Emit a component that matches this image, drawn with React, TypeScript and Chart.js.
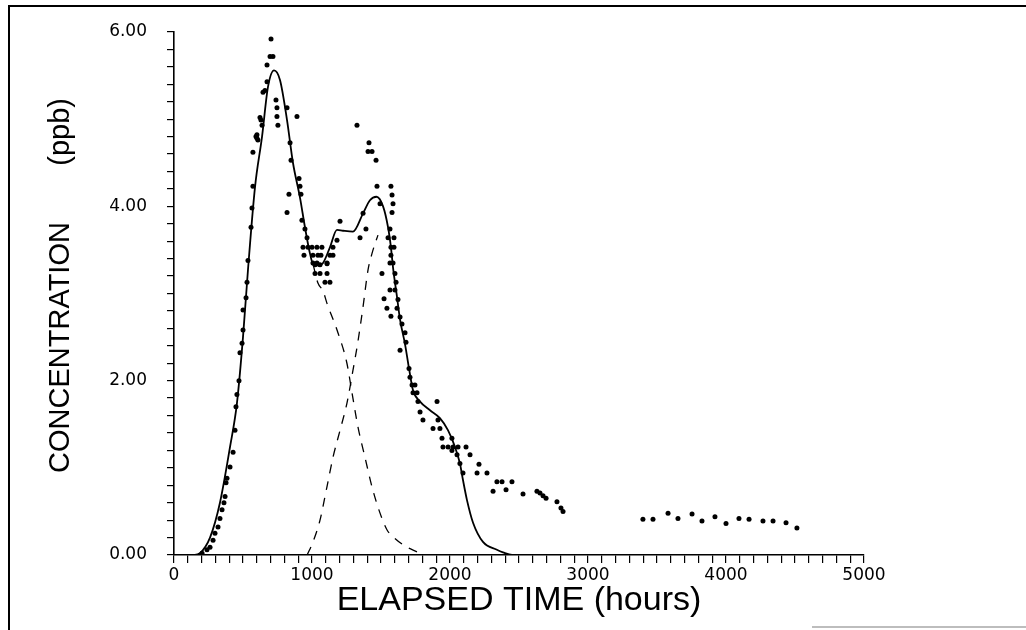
import React, { useEffect, useRef } from "react";
import { Chart, registerables } from "chart.js";

Chart.register(...registerables);

// Observed concentrations (ppb) vs elapsed time (hours)
const obsHours = [
  203, 239, 261, 283, 297, 319, 333, 348, 362, 370, 377, 384, 406, 428, 442, 449, 456, 471, 478, 493,
  500, 500, 522, 529, 536, 558, 565, 572, 572, 594, 601, 601, 608, 623, 630, 638, 645, 659, 674, 674,
  696, 703, 717, 739, 746, 746, 753, 819, 891, 841, 848, 906, 913, 920, 833, 819, 927, 949, 964, 935,
  971, 942, 1000, 1036, 1072, 1007, 1043, 1065, 1036, 1109, 1130, 1152, 1152, 1181, 1203, 1348, 1370, 1391, 1326, 1413,
  1406, 1435, 1464, 1471, 1572, 1580, 1587, 1580, 1493, 1565, 1594, 1551, 1572, 1594, 1572, 1565, 1587, 1507, 1601, 1609,
  1565, 1601, 1522, 1623, 1543, 1616, 1572, 1638, 1652, 1674, 1638, 1681, 1703, 1710, 1725, 1746, 1732, 1761, 1768, 1906,
  1783, 1804, 1913, 1877, 1927, 1942, 2014, 1949, 1986, 2022, 2058, 2116, 2014, 2051, 2145, 2072, 2210, 2094, 2196, 2268,
  2340, 2377, 2449, 2312, 2406, 2529, 2630, 2652, 2674, 2696, 2775, 2804, 2819,
  1007, 1022, 1058, 1109, 1109, 1094, 1130, 1022, 1058,
  3398, 3471, 3580, 3652, 3754, 3826, 3920, 4000, 4094, 4167, 4268, 4341, 4435, 4514,
];
const obsConc = [
  0.02, 0.06, 0.09, 0.17, 0.25, 0.32, 0.42, 0.52, 0.6, 0.67, 0.83, 0.88, 1.01, 1.18, 1.43, 1.7, 1.84, 2.0, 2.32, 2.43,
  2.58, 2.81, 2.95, 3.13, 3.38, 3.76, 3.98, 4.23, 4.62, 4.8, 4.82, 4.78, 4.76, 5.02, 4.99, 4.93, 5.31, 5.33, 5.43, 5.62,
  5.72, 5.92, 5.72, 5.22, 5.13, 5.03, 4.93, 5.13, 5.03, 4.73, 4.53, 4.32, 4.23, 4.14, 4.14, 3.93, 3.84, 3.74, 3.64, 3.53,
  3.53, 3.44, 3.53, 3.53, 3.53, 3.44, 3.44, 3.44, 3.35, 3.35, 3.44, 3.44, 3.53, 3.61, 3.83, 3.64, 3.92, 3.74, 4.93, 4.73,
  4.63, 4.63, 4.53, 4.23, 4.23, 4.13, 4.03, 3.93, 4.03, 3.74, 3.64, 3.64, 3.53, 3.53, 3.44, 3.35, 3.35, 3.23, 3.23, 3.13,
  3.04, 3.04, 2.94, 2.93, 2.83, 2.83, 2.74, 2.73, 2.65, 2.55, 2.35, 2.44, 2.14, 2.04, 1.95, 1.95, 1.86, 1.86, 1.76, 1.76,
  1.64, 1.55, 1.55, 1.45, 1.45, 1.34, 1.34, 1.24, 1.24, 1.24, 1.24, 1.24, 1.2, 1.15, 1.15, 1.05, 1.04, 0.94, 0.94, 0.94,
  0.84, 0.84, 0.84, 0.73, 0.75, 0.7, 0.73, 0.71, 0.68, 0.65, 0.61, 0.54, 0.5,
  3.35, 3.23, 3.23, 3.34, 3.23, 3.13, 3.13, 3.33, 3.33,
  0.41, 0.41, 0.48, 0.42, 0.47, 0.39, 0.44, 0.36, 0.42, 0.41, 0.39, 0.39, 0.37, 0.31,
];

// Fitted total curve
const fitHours = [
  0, 150, 188, 261, 333, 406, 456, 500, 536, 587, 638, 681, 725, 768, 819, 862, 913, 949, 985, 1007,
  1050, 1080, 1130, 1181, 1225, 1297, 1370, 1420, 1467, 1515, 1551, 1572, 1587, 1616, 1638, 1674, 1703, 1732, 1783, 1855,
  1927, 1986, 2036, 2072, 2094, 2123, 2167, 2239, 2340, 2384, 2450, 5000,
];
const fitConc = [
  0, 0, 0.02, 0.2, 0.6, 1.24, 1.74, 2.5, 3.27, 4.22, 4.8, 5.37, 5.56, 5.45, 4.99, 4.5, 4.1, 3.76, 3.46, 3.34,
  3.32, 3.35, 3.53, 3.73, 3.72, 3.71, 3.92, 4.07, 4.11, 4.0, 3.76, 3.53, 3.3, 2.96, 2.7, 2.42, 2.14, 1.89, 1.76, 1.66,
  1.57, 1.43, 1.24, 1.05, 0.86, 0.63, 0.37, 0.15, 0.06, 0.03, 0, 0,
];

// First component (dashed)
const comp1Hours = [1007, 1043, 1080, 1108, 1188, 1253, 1290, 1333, 1384, 1435, 1493, 1543, 1601, 1688, 1768, 1800];
const comp1Conc = [3.34, 3.12, 3.03, 2.89, 2.55, 2.2, 1.86, 1.47, 1.12, 0.78, 0.48, 0.29, 0.19, 0.09, 0.03, 0.0];

// Second component (dashed)
const comp2Hours = [965, 1007, 1058, 1108, 1152, 1203, 1253, 1297, 1333, 1370, 1406, 1435, 1478];
const comp2Conc = [0.0, 0.15, 0.4, 0.78, 1.12, 1.43, 1.74, 2.12, 2.45, 2.85, 3.27, 3.46, 3.67];

const xMajorTicks = [0, 1000, 2000, 3000, 4000, 5000];
const yMajorTicks = [0, 2, 4, 6];

const xTitle = "ELAPSED TIME (hours)";
const yTitle = "  CONCENTRATION       (ppb)";

const toPoints = (xs: number[], ys: number[]) => xs.map((x, i) => ({ x, y: ys[i] }));

export default function App() {
  const ref = useRef<HTMLCanvasElement>(null);

  useEffect(() => {
    const canvas = ref.current;
    if (!canvas) return;

    const framePlugin = {
      id: "frame",
      beforeDraw(chart: any) {
        const c = chart.ctx;
        c.save();
        c.fillStyle = "#ffffff";
        c.fillRect(0, 0, chart.width, chart.height);
        c.strokeStyle = "#000000";
        c.lineWidth = 2;
        c.beginPath();
        c.moveTo(9, 630);
        c.lineTo(9, 6);
        c.lineTo(1026, 6);
        c.stroke();
        c.strokeStyle = "#bdbdbd";
        c.lineWidth = 2;
        c.beginPath();
        c.moveTo(812, 627);
        c.lineTo(1026, 627);
        c.stroke();
        c.restore();
      },
    };

    const tickFont = { family: "'DejaVu Sans', sans-serif", size: 17 };
    const titleFamily = "'Liberation Sans', Arial, sans-serif";

    const chart = new Chart(canvas, {
      type: "scatter",
      data: {
        datasets: [
          {
            label: "Observed",
            data: toPoints(obsHours, obsConc),
            showLine: false,
            pointRadius: 2.5,
            pointBackgroundColor: "#000",
            pointBorderWidth: 0,
            order: 1,
          },
          {
            label: "Fit",
            data: toPoints(fitHours, fitConc),
            showLine: true,
            pointRadius: 0,
            borderColor: "#000",
            borderWidth: 1.8,
            cubicInterpolationMode: "monotone",
            order: 2,
          },
          {
            label: "Component 1",
            data: toPoints(comp1Hours, comp1Conc),
            showLine: true,
            pointRadius: 0,
            borderColor: "#000",
            borderWidth: 1.3,
            borderDash: [9, 8],
            cubicInterpolationMode: "monotone",
            order: 3,
          },
          {
            label: "Component 2",
            data: toPoints(comp2Hours, comp2Conc),
            showLine: true,
            pointRadius: 0,
            borderColor: "#000",
            borderWidth: 1.3,
            borderDash: [9, 8],
            cubicInterpolationMode: "monotone",
            order: 4,
          },
        ],
      },
      options: {
        responsive: true,
        maintainAspectRatio: false,
        animation: false,
        layout: { padding: { left: 0, top: 32, right: 162, bottom: 0 } },
        plugins: {
          legend: { display: false },
          tooltip: { enabled: false },
        },
        scales: {
          x: {
            type: "linear",
            min: 0,
            max: 5000,
            afterFit: (scale: any) => {
              scale.height = 75;
            },
            ticks: {
              stepSize: 100,
              autoSkip: false,
              maxRotation: 0,
              padding: 2,
              color: "#000",
              font: tickFont,
              callback: (v: any) => (xMajorTicks.includes(Number(v)) ? String(v) : ""),
            },
            grid: {
              drawOnChartArea: false,
              drawTicks: true,
              tickLength: 8,
              color: "#000",
              lineWidth: 1.2,
            },
            border: { display: true, color: "#000", width: 1.6 },
            title: {
              display: true,
              text: xTitle,
              color: "#000",
              font: { family: titleFamily, size: 34 },
              padding: { top: 0, bottom: 9 },
            },
          },
          y: {
            type: "linear",
            min: 0,
            max: 6,
            afterFit: (scale: any) => {
              scale.width = 174;
            },
            ticks: {
              stepSize: 0.2,
              autoSkip: false,
              padding: 20,
              color: "#000",
              font: tickFont,
              callback: (v: any) => {
                const n = Number(v);
                return yMajorTicks.some((t) => Math.abs(t - n) < 1e-6) ? n.toFixed(2) : "";
              },
            },
            grid: {
              drawOnChartArea: false,
              drawTicks: true,
              tickLength: 7,
              color: "#000",
              lineWidth: 1.2,
            },
            border: { display: true, color: "#000", width: 1.6 },
            title: {
              display: true,
              text: yTitle,
              color: "#000",
              font: { family: titleFamily, size: 29 },
              padding: { top: 44, bottom: 0 },
            },
          },
        },
      },
      plugins: [framePlugin],
    });

    return () => chart.destroy();
  }, []);

  return (
    <div style={{ position: "fixed", left: 0, top: 0, width: 1026, height: 630, background: "#fff" }}>
      <canvas ref={ref} />
    </div>
  );
}
